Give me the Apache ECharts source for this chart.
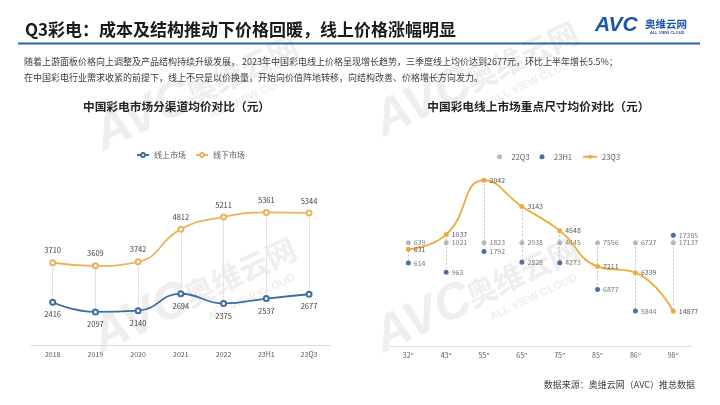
<!DOCTYPE html>
<html><head><meta charset="utf-8">
<script src="https://cdn.jsdelivr.net/npm/echarts@6/dist/echarts.min.js"></script>
<style>html,body{margin:0;padding:0;background:#fff}#c{width:720px;height:405px}</style>
</head><body><div id="c"></div>
<script>
// ---- data ----
const years = ['2018','2019','2020','2021','2022','23H1','23Q3'];
const onlinePrice = [2416,2097,2140,2694,2375,2537,2677];
const offlinePrice = [3710,3609,3742,4812,5211,5361,5344];
const sizes = ['32″','43″','55″','65″','75″','85″','86″','98″'];
const price22Q3 = [639,1021,1823,2938,4445,7556,6727,17137];
const price23H1 = [614,963,1792,2828,4273,6877,5844,17385];
const price23Q3 = [631,1037,2042,3143,4548,7211,6339,14877];

const titleText = 'Q3彩电：成本及结构推动下价格回暖，线上价格涨幅明显';
const bodyLine1 = '随着上游面板价格向上调整及产品结构持续升级发展， 2023年中国彩电线上价格呈现增长趋势，三季度线上均价达到2677元，环比上半年增长5.5%；';
const bodyLine2 = '在中国彩电行业需求收紧的前提下，线上不只是以价换量，开始向价值阵地转移，向结构改善、价格增长方向发力。';
const leftTitle = '中国彩电市场分渠道均价对比（元）';
const rightTitle = '中国彩电线上市场重点尺寸均价对比（元）';
const sourceText = '数据来源：奥维云网（AVC）推总数据';

// ---- styles ----
const CJK = '"Noto Sans CJK SC","Noto Sans",sans-serif';
const BLUE = '#3a6f9f', ORANGE = '#e9b45a';
const GRAY = '#a6a6a6', NAVY = '#1f4f8f', ORANGE2 = '#eeaa3a';
const LOGO = '#1d56a6', WM = '#eeeeee';

function watermark(x, y) {
  return {type:'group', x:x, y:y, rotation:0.44, silent:true, children:[
    {type:'text', x:0, y:0, style:{text:'AVC', font:'italic bold 50px "Liberation Sans"', fill:WM, verticalAlign:'bottom'}},
    {type:'text', x:100, y:-10, style:{text:'奥维云网', font:'bold 30px ' + CJK, fill:WM, verticalAlign:'bottom'}},
    {type:'text', x:112, y:8, style:{text:'ALL VIEW CLOUD', font:'bold 11px "Liberation Sans"', fill:WM, verticalAlign:'bottom'}}
  ]};
}

const ratio = (arr) => arr.map((v, i) => v / price22Q3[i]);
const r22 = ratio(price22Q3), rH1 = ratio(price23H1), rQ3 = ratio(price23Q3);

const chart = echarts.init(document.getElementById('c'), null, {renderer:'canvas'});
chart.setOption({
  animation:false,
  backgroundColor:'#fff',
  textStyle:{fontFamily:CJK},
  graphic:[
    watermark(108,161), watermark(388,147), watermark(106,363), watermark(388,363),
    {type:'text', x:25, y:29.5, style:{text:titleText, font:'bold 17px ' + CJK, fill:'#1a1a1a', verticalAlign:'middle'}},
    {type:'rect', shape:{x:18, y:42.5, width:682, height:2}, style:{fill:'#2a64a8'}},
    {type:'text', x:595, y:25, style:{text:'AVC', font:'italic bold 21px "Liberation Sans"', fill:LOGO, verticalAlign:'middle'}},
    {type:'text', x:645, y:24.5, style:{text:'奥维云网', font:'bold 10.5px ' + CJK, fill:LOGO, verticalAlign:'middle'}},
    {type:'text', x:650, y:32.7, style:{text:'ALL VIEW CLOUD', font:'bold 4px "Liberation Sans"', fill:LOGO, verticalAlign:'middle'}},
    {type:'text', x:24, y:61.7, style:{text:bodyLine1, font:'9px ' + CJK, fill:'#3a3a3a', verticalAlign:'middle'}},
    {type:'text', x:24, y:77.7, style:{text:bodyLine2, font:'9px ' + CJK, fill:'#3a3a3a', verticalAlign:'middle'}},
    {type:'text', x:176.5, y:107, style:{text:leftTitle, font:'bold 11.7px ' + CJK, fill:'#262626', align:'center', verticalAlign:'middle'}},
    {type:'text', x:538.3, y:107, style:{text:rightTitle, font:'bold 11.7px ' + CJK, fill:'#262626', align:'center', verticalAlign:'middle'}},
    {type:'text', x:695, y:384.5, style:{text:sourceText, font:'9px ' + CJK, fill:'#404040', align:'right', verticalAlign:'middle'}}
  ],
  legend:[
    {data:['线上市场','线下市场'], left:131, top:146, itemWidth:12, itemHeight:5, itemGap:9,
     textStyle:{fontSize:8, color:'#595959'}},
    {data:['22Q3','23H1','23Q3'], left:492, top:148, itemWidth:14, itemHeight:5, itemGap:10,
     textStyle:{fontSize:7.5, color:'#595959'}}
  ],
  grid:[
    {left:31.3, right:389.6, top:192.9, bottom:59.6},
    {left:389.4, right:27.8, top:138.7, bottom:58.3}
  ],
  xAxis:[
    {type:'category', gridIndex:0, data:years, boundaryGap:true, axisTick:{show:false},
     axisLine:{lineStyle:{color:'#d9d9d9'}}, axisLabel:{fontSize:7, color:'#595959', margin:5}},
    {type:'category', gridIndex:1, data:sizes, boundaryGap:true, axisTick:{show:false},
     axisLine:{lineStyle:{color:'#e0e0e0'}}, axisLabel:{fontSize:7, color:'#595959', margin:5}}
  ],
  yAxis:[
    {type:'value', gridIndex:0, min:1000, max:6000, show:false},
    {type:'value', gridIndex:1, min:0.8, max:1.2, show:false}
  ],
  series:[
    {name:'线上市场', type:'line', xAxisIndex:0, yAxisIndex:0, data:onlinePrice, smooth:true,
     symbol:'emptyCircle', symbolSize:5, color:BLUE,
     lineStyle:{width:1.8, color:BLUE}, itemStyle:{borderWidth:1, color:BLUE},
     label:{show:true, position:'bottom', distance:5, fontSize:7.5, color:'#404040'},
     markLine:{silent:true, z:1, symbol:'none', label:{show:false},
       lineStyle:{color:'#e3e3e3', width:1, type:'solid'},
       data:years.map((c, i) => [{coord:[i, onlinePrice[i]]}, {coord:[i, offlinePrice[i]]}])}},
    {name:'线下市场', type:'line', xAxisIndex:0, yAxisIndex:0, data:offlinePrice, smooth:true,
     symbol:'emptyCircle', symbolSize:5, color:ORANGE,
     lineStyle:{width:1.8, color:ORANGE}, itemStyle:{borderWidth:1, color:ORANGE},
     label:{show:true, position:'top', distance:5, fontSize:7.5, color:'#404040'}},
    {name:'22Q3', type:'scatter', xAxisIndex:1, yAxisIndex:1, data:r22, symbolSize:5, color:GRAY,
     label:{show:true, position:'right', distance:3, fontSize:7, color:'#595959',
       formatter:(p) => String(price22Q3[p.dataIndex])},
     markLine:{silent:true, z:1, symbol:'none', label:{show:false},
       lineStyle:{color:'#c4c4c4', width:1, type:[2,2]},
       data:sizes.map((s, i) => [{coord:[i, Math.max(r22[i], rH1[i], rQ3[i])]},
                                 {coord:[i, Math.min(r22[i], rH1[i], rQ3[i])]}])}},
    {name:'23H1', type:'scatter', xAxisIndex:1, yAxisIndex:1, data:rH1, symbolSize:5, color:NAVY,
     label:{show:true, position:'right', distance:3, fontSize:7, color:'#595959',
       formatter:(p) => String(price23H1[p.dataIndex])}},
    {name:'23Q3', type:'line', xAxisIndex:1, yAxisIndex:1, data:rQ3, smooth:true,
     symbol:'circle', symbolSize:5, color:ORANGE2,
     lineStyle:{width:1.8, color:ORANGE2}, itemStyle:{color:ORANGE2},
     label:{show:true, position:'right', distance:3, fontSize:7, color:'#595959',
       formatter:(p) => String(price23Q3[p.dataIndex])}}
  ]
});
</script></body></html>
